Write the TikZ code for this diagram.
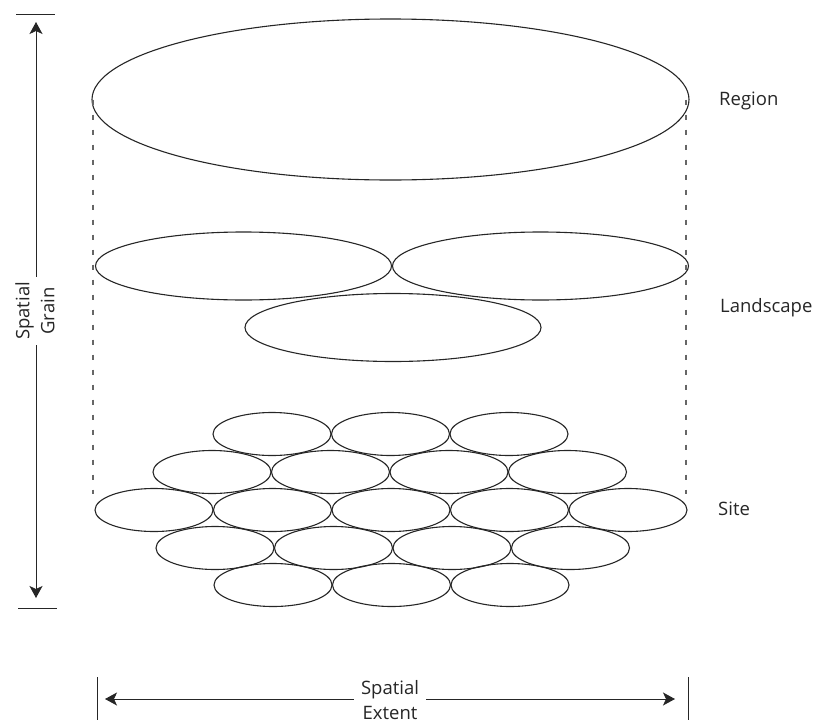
\documentclass[tikz,border=0pt]{standalone}
\usepackage{fontspec}
\setmainfont{Open Sans}
\usetikzlibrary{arrows.meta,shapes.geometric}
\tikzset{%
  >={Stealth[width=13pt,length=12pt,inset=3pt]},
  % Specifications for style of the patches:
        patch/.style = {ellipse, draw=black!85, line width=1.1pt,
                        inner sep=0pt},
  regionpatch/.style = {patch, minimum width=597pt, minimum height=161pt},
    landpatch/.style = {patch, minimum width=296pt, minimum height=68pt},
    sitepatch/.style = {patch, minimum width=118pt, minimum height=43pt},
  % Specifications for labels and axes:
        level/.style = {anchor=base west, inner sep=0pt},
         axis/.style = {draw=black!85, line width=0.9pt},
        guide/.style = {draw=black!60, line width=1.3pt,
                        dash pattern=on 5pt off 10pt},
    axislabel/.style = {fill=white, align=center, inner ysep=1pt},
}
\begin{document}
\begin{tikzpicture}[x=1pt, y=-1pt,
    every node/.style={font=\fontsize{18.5}{25}\selectfont, text=black!85}]
  \useasboundingbox (0,0) rectangle (817,723);
  % Specification of patches (position, etc.)
  \node (region) [regionpatch] at (390.5,99.5) {};
  \node (landW)  [landpatch]   at (243.5,266)  {};
  \node (landE)  [landpatch]   at (540.5,266)  {};
  \node (landS)  [landpatch]   at (393,327.5)  {};
  \foreach \row/\y/\x/\n in {1/434/272/3, 2/472/212/4, 3/510/154/5,
                            4/548/215/4, 5/585/273/3}
    \foreach \i in {1,...,\n}
      \node (site\row\i) [sitepatch] at ({\x+(\i-1)*118.5},\y) {};
  % dashed guides from the region down to the sites
  \coordinate (guideW) at (93,494);
  \coordinate (guideE) at (686,494);
  \draw[guide] (guideW |- region.west) -- (guideW);
  \draw[guide] (guideE |- region.east) -- (guideE);
  % level names
  \node (regionname) [level] at (719,105) {Region};
  \node (landname)   [level] at (720,312) {Landscape};
  \node (sitename)   [level] at (718,515) {Site};
  % spatial grain axis
  \coordinate (grainTop) at (36,14);
  \coordinate (grainBot) at (37,608);
  \draw[axis] ([xshift=-20pt]grainTop) -- ([xshift=19pt]grainTop);
  \draw[axis] ([xshift=-19pt]grainBot) -- ([xshift=20pt]grainBot);
  \draw[axis,<->] ([yshift=-8pt]grainTop) -- ([yshift=10pt]grainTop |- grainBot);
  \node (grain) [axislabel, rotate=90, inner xsep=5pt] at (35,311) {Spatial\\Grain};
  % spatial extent axis
  \coordinate (extentW) at (97,699);
  \coordinate (extentE) at (688,699);
  \draw[axis] ([yshift=22pt]extentW) -- ([yshift=-21pt]extentW);
  \draw[axis] ([yshift=22pt]extentE) -- ([yshift=-21pt]extentE);
  \draw[axis,<->] ([xshift=8pt]extentW) -- ([xshift=-13pt]extentE);
  \node (extent) [axislabel, inner xsep=7pt] at (390,700) {Spatial\\Extent};
\end{tikzpicture}
\end{document}
